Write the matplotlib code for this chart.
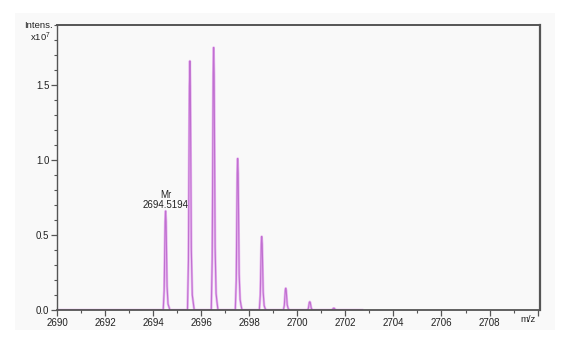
import matplotlib
matplotlib.use("Agg")
import matplotlib.pyplot as plt
from matplotlib.ticker import MultipleLocator, FixedLocator
from matplotlib.patches import Rectangle

# ---- data (intensity in units of 1e7) ----
mz_p1 = [2694.42, 2694.46, 2694.50, 2694.52, 2694.54, 2694.58, 2694.62, 2694.66, 2694.70]
in_p1 = [0.0, 0.13, 0.59, 0.66, 0.59, 0.16, 0.04, 0.02, 0.0]
mz_p2 = [2695.43, 2695.47, 2695.51, 2695.53, 2695.55, 2695.59, 2695.63, 2695.67, 2695.71]
in_p2 = [0.0, 0.33, 1.49, 1.66, 1.49, 0.40, 0.10, 0.05, 0.0]
mz_p3 = [2696.42, 2696.46, 2696.50, 2696.52, 2696.54, 2696.58, 2696.62, 2696.66, 2696.70]
in_p3 = [0.0, 0.35, 1.57, 1.75, 1.57, 0.42, 0.11, 0.05, 0.0]
mz_p4 = [2697.42, 2697.46, 2697.50, 2697.52, 2697.54, 2697.58, 2697.62, 2697.66, 2697.70]
in_p4 = [0.0, 0.20, 0.91, 1.01, 0.91, 0.24, 0.07, 0.03, 0.0]
mz_p5 = [2698.42, 2698.46, 2698.50, 2698.52, 2698.54, 2698.58, 2698.62, 2698.66, 2698.70]
in_p5 = [0.0, 0.10, 0.44, 0.49, 0.44, 0.12, 0.03, 0.01, 0.0]
mz_p6 = [2699.42, 2699.46, 2699.50, 2699.52, 2699.54, 2699.58, 2699.62, 2699.66, 2699.70]
in_p6 = [0.0, 0.03, 0.13, 0.145, 0.13, 0.035, 0.01, 0.0, 0.0]
mz_p7 = [2700.42, 2700.46, 2700.50, 2700.52, 2700.54, 2700.58, 2700.62, 2700.66, 2700.70]
in_p7 = [0.0, 0.01, 0.05, 0.055, 0.05, 0.013, 0.0, 0.0, 0.0]
mz_p8 = [2701.42, 2701.46, 2701.50, 2701.52, 2701.54, 2701.58, 2701.62, 2701.66, 2701.70]
in_p8 = [0.0, 0.003, 0.011, 0.012, 0.011, 0.003, 0.0, 0.0, 0.0]

mz = [2690.0] + mz_p1 + mz_p2 + mz_p3 + mz_p4 + mz_p5 + mz_p6 + mz_p7 + mz_p8 + [2702.7]
intensity = [0.0] + in_p1 + in_p2 + in_p3 + in_p4 + in_p5 + in_p6 + in_p7 + in_p8 + [0.0]

label_mz = 2694.52
label_y = 0.66
label_text = "Mr\n2694.5194"

x_ticks = [2690, 2692, 2694, 2696, 2698, 2700, 2702, 2704, 2706, 2708]
x_ticklabels = ["2690", "2692", "2694", "2696", "2698", "2700", "2702", "2704", "2706", "2708"]
y_ticks = [0.0, 0.5, 1.0, 1.5]
y_ticklabels = ["0.0", "0.5", "1.0", "1.5"]

# ---- figure ----
plt.rcParams['font.family'] = ['Liberation Sans', 'DejaVu Sans']
plt.rcParams['mathtext.fontset'] = 'custom'
plt.rcParams['mathtext.rm'] = 'Liberation Sans'
W, H = 578, 337
fig = plt.figure(figsize=(W / 100, H / 100), dpi=100)
fig.patch.set_facecolor("white")
fig.patches.append(Rectangle((15 / W, 7 / H), 540 / W, 317 / H, transform=fig.transFigure,
                             facecolor="#f9f9f9", edgecolor="none", zorder=-5))

ax = fig.add_axes([57 / W, 27 / H, (540 - 57) / W, (310 - 25) / H])
ax.set_zorder(2)
ax.set_facecolor("none")

ax.plot(mz, intensity, color="#e8b6f0", lw=1.8, solid_joinstyle="round", zorder=1.5)
ax.plot(mz, intensity, color="#c070d0", lw=0.8, solid_joinstyle="round", zorder=2)

ax.text(label_mz, label_y + 0.005, label_text, ha="center", va="bottom",
        fontsize=7, linespacing=1.0, color="#222222")

ax.set_xlim(2690, 2710.1)
ax.set_ylim(0, 1.9)

ax.xaxis.set_major_locator(FixedLocator(x_ticks + [2710]))
ax.set_xticklabels(x_ticklabels + [""])
ax.xaxis.set_minor_locator(MultipleLocator(1))
ax.yaxis.set_major_locator(FixedLocator(y_ticks))
ax.set_yticklabels(y_ticklabels)
ax.yaxis.set_minor_locator(MultipleLocator(0.1))

for s in ax.spines.values():
    s.set_color("#555555")
    s.set_linewidth(1.0)
    s.set_zorder(3)
ax.spines["right"].set_linewidth(1.6)
ax.spines["top"].set_linewidth(1.4)
ax.spines["bottom"].set_linewidth(1.3)

ax.tick_params(axis="both", which="major", direction="out", length=4, width=0.9,
               color="#555555", labelsize=7, pad=1.5, labelcolor="#222222")
ax.tick_params(axis="both", which="minor", direction="out", length=2.5, width=0.8,
               color="#555555")

fig.text(53 / W, 1 - 26 / H, "Intens.", ha="right", va="center", fontsize=6.8, color="#222222")
fig.text(51 / W, 1 - 37 / H, r"x10$^7$", ha="right", va="center", fontsize=6.8, color="#222222")
fig.text(528 / W, 1 - 320 / H, "m/z", ha="center", va="center", fontsize=6.8, color="#222222")

fig.savefig("out.png", dpi=100)
